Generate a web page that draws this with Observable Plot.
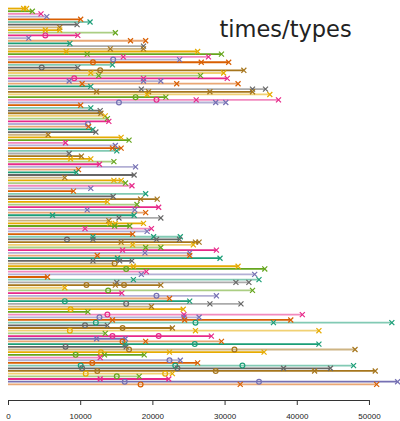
<!DOCTYPE html>
<html><head><meta charset="utf-8">
<script src="https://cdn.jsdelivr.net/npm/d3@7"></script>
<script src="https://cdn.jsdelivr.net/npm/@observablehq/plot@0.6"></script>
<style>body{margin:0;background:#fff} svg{display:block}</style>
</head><body><div id="chart"></div>
<script>
// rows listed top to bottom
const ends = [
 2500,3300,4500,5300,10000,11300,9500,7100,7100,14800,
 9600,2800,19000,8500,18700,18700,26200,29500,27700,23700,
 30500,14400,9600,32600,29800,26600,30300,21100,31800,11400,
 35600,33800,36200,21800,37400,30100,10000,11400,12700,12800,
 13400,13700,13900,11000,11100,11700,12100,5500,15600,16700,
 7900,14800,15600,15000,8400,10100,11400,14600,12600,17600,
 9700,9400,17400,7800,15600,16200,17100,11400,9000,19000,
 14500,20600,13700,17800,20800,17500,19000,17400,21100,13900,
 18700,16800,19800,19200,17200,23800,23700,26400,25600,21100,
 28800,25100,25100,29300,17100,14900,31800,35500,19100,34100,
 5400,34700,33300,21100,7800,33800,15700,28800,22300,25100,
 32200,19800,24200,11000,40700,26400,39100,53100,13700,22700,
 43000,13400,28100,16200,29500,43000,16300,48000,35400,18800,
 12700,23800,26200,47800,44600,50800,22700,18100,22200,53900,
 51000
];
const eventTimes = [
 [2100,2500],[3300],[4500],[5300],[10000],[11300],[9500],[7100],[5100,7100],[14800],
 [5100,9600],[2800],[16900,19000],[8500],[18700],[14100,18700],[8000,26200],[10900,29500],[15900,27700],[14500,23700],
 [11700,26700,30500],[14400],[4600,9600],[12700,32600],[11400,29800],[12500,26600],[9100,18700,30300],[8400,18700,21100],[10200,23300,31800],[11400],
 [18400,33800,35600],[12200,19400,27900,33800],[19200,36200],[17600,21800],[20500,26000,37400],[15300,28700,30100],[10000],[11400],[12700],[12800],
 [13400],[13700],[13900],[11000],[11100],[11700],[12100],[5500],[15600],[16700],
 [7900],[14800],[14400,15600],[15000],[8400],[10100],[8600,11400],[14600],[12600],[17600],
 [9700],[9400],[17400],[7800],[14600,15600],[16200],[17100],[11400],[9000],[19000],
 [14500],[18300,20600],[13700],[17800],[20800],[10900,17500],[19000],[6100,17400],[15300,21100],[13900],
 [14000,14800,18700],[14700,16800],[10600,19800],[19200],[17200],[11700,20100,23800],[8100,11700,20500,23700],[15600,25900,26400],[17200,25600],[19000,21100],
 [15800,28800],[18900,25100],[12300,25100],[15100,29300],[11700,15400,17100],[14700],[17300,31800],[16300,35500],[19100],[18400,34100],
 [5400],[17300,34700],[15000,31500,33300],[10800,14800,16000,21100],[7800],[13800,33800],[15700],[20500,28800],[22300],[7800,25100],
 [16300,27900,32200],[19800],[8600,24200],[11000],[13700,24300,40700],[12600,24300,26400],[14400,24400,39100],[12100,25900,36700,53100],[10600,13700],[15800,22700],
 [8500,25900,43000],[13400],[14400,20800,28100],[12200,16200],[15800,19000,29500],[16100,25800,43000],[7900,16300],[16700,31300,48000],[12800,22300,35400],[9300,13300,18800],
 [12700],[22300,23800],[11600,26200],[10000,23100,32400,47800],[10200,23400,38100,44600],[12300,28700,42400,50800],[10700,21700,22700],[15000,18100],[12700,22200],[16100,34700,53900],
 [18300,32100,51000]
];
const eventTypes = [
 "xx","x","x","x","x","x","x","x","xx","x",
 "ox","x","xx","x","x","xx","xx","xx","xx","ox",
 "oxx","x","ox","ox","xx","xx","oxx","xxx","xxx","x",
 "xxx","xxxx","xx","ox","oxx","oxx","x","x","x","x",
 "x","x","x","o","x","x","x","x","x","x",
 "x","x","xx","x","x","x","xx","x","x","x",
 "x","x","x","x","xx","x","x","x","x","x",
 "x","xx","x","x","x","xx","x","xx","xx","x",
 "xxx","xx","xx","x","x","xxx","oxxx","xxx","xx","xx",
 "xx","xx","xx","xx","xxx","o","xx","ox","x","xx",
 "x","xx","xxx","oxox","x","ox","x","ox","x","ox",
 "oxx","x","ox","x","oxx","oxx","xxx","ooxx","ox","ox",
 "oxx","x","oox","xx","oxx","xox","ox","oox","oxx","oxx",
 "x","ox","ox","ooox","ooxx","ooxx","oox","ox","xx","oox",
 "oxx"
];
const shade = "DDLLDLDLDL"+"DLLDLLDDLL"+"DLDDLLDLLD"+"LDLDLLDLDD"+"LLDLLDDLDD"+
              "LLDLLDDLDL"+"LDDLDLLLDL"+"DDDLDLLDLL"+"DDLLDLDDLL"+"DLLDDLDDLL"+
              "DLLDLLDLLD"+"LLDDLLDLDD"+"LLDDLDDLDD"+"LLDLDDLLDD"+"L";
const xTicks = [0,10000,20000,30000,40000,50000];
const titleText = "times/types";
const palette = ["#1b9e77","#d95f02","#7570b3","#e7298a","#66a61e","#e6ab02","#a6761d","#666666"];

const n = ends.length;
const rows = ends.map((end,i)=>({id: n - i, end, light: shade[i]==="L"}));
const events = eventTimes.flatMap((ts,i)=>ts.map((t,j)=>({id: n - i, t, type: eventTypes[i][j]})));
const col = d => palette[d.id % 8];

const chart = Plot.plot({
  width: 400, height: 421,
  marginLeft: 8, marginRight: 0, marginTop: 0, marginBottom: 21,
  style: {background: "#fff"},
  x: {domain: [0, 54300], axis: null},
  y: {domain: [-5, 144], axis: null},
  symbol: {domain: ["x","o"], range: ["times","circle"]},
  marks: [
    Plot.ruleY(rows, {y: "id", x1: 0, x2: "end", stroke: col, strokeOpacity: d => d.light ? 0.55 : 1, strokeWidth: 1.8}),
    Plot.dot(events, {x: "t", y: "id", symbol: "type", stroke: col, fill: "none", r: 2.4, strokeWidth: 1.2}),
    Plot.ruleY([-5], {x1: d3.min(xTicks), x2: d3.max(xTicks), stroke: "#333", strokeWidth: 1}),
    Plot.axisX(xTicks, {anchor: "bottom", tickSize: 5, tickPadding: 8, tickFormat: d3.format("d"), fontSize: 8, fontFamily: "Liberation Sans", stroke: "#333", color: "#222"}),
    Plot.text([titleText], {frameAnchor: "top-left", dx: 211, dy: 29, textAnchor: "start", lineAnchor: "middle", fontSize: 22.5, fontFamily: "DejaVu Sans", fill: "#222"})
  ]
});
document.getElementById("chart").appendChild(chart);
</script></body></html>
